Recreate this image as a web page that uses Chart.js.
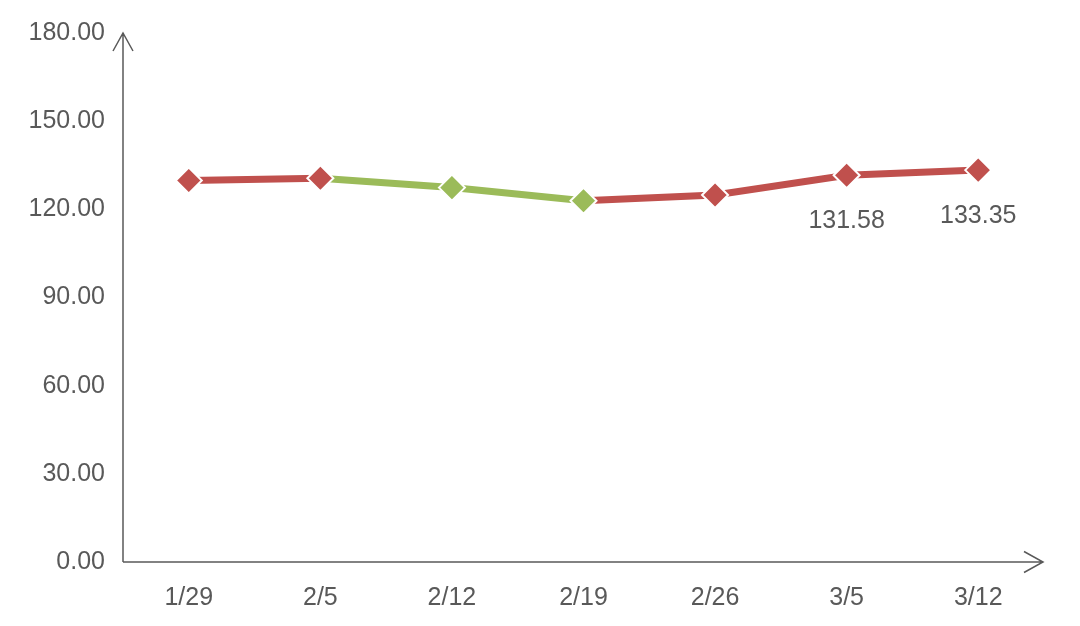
<!DOCTYPE html>
<html>
<head>
<meta charset="utf-8">
<script src="https://cdn.jsdelivr.net/npm/chart.js@4"></script>
<style>
html,body{margin:0;padding:0;background:#fff;}
#wrap{width:1080px;height:626px;position:relative;}
</style>
</head>
<body>
<div id="wrap"><canvas id="c" width="1080" height="626"></canvas></div>
<script>
// ---- data ----
const categories = ['1/29', '2/5', '2/12', '2/19', '2/26', '3/5', '3/12'];
const values = [129.8, 130.6, 127.4, 122.9, 124.9, 131.58, 133.35];
const showValueLabel = [false, false, false, false, false, true, true];
const yTickValues = [0, 30, 60, 90, 120, 150, 180];

const RED = '#C0504D';
const GREEN = '#9BBB59';
const AXIS = '#595959';
const TEXT = '#595959';
const FONT = "'Liberation Sans', Arial, sans-serif";
const FONT_SIZE = 25;

// rising (or first) -> red, falling -> green
const pointColors = values.map((v, i) => (i > 0 && v < values[i - 1]) ? GREEN : RED);

const axesPlugin = {
  id: 'axesArrows',
  beforeDatasetsDraw(chart) {
    const {ctx, chartArea: a} = chart;
    ctx.save();
    ctx.strokeStyle = AXIS;
    ctx.lineWidth = 1.5;
    ctx.beginPath();
    // y axis
    ctx.moveTo(a.left, a.bottom);
    ctx.lineTo(a.left, a.top);
    ctx.moveTo(a.left - 10, a.top + 18);
    ctx.lineTo(a.left, a.top);
    ctx.lineTo(a.left + 10, a.top + 18);
    // x axis
    ctx.moveTo(a.left, a.bottom);
    ctx.lineTo(a.right - 1, a.bottom);
    ctx.moveTo(a.right - 20, a.bottom - 10.5);
    ctx.lineTo(a.right - 1, a.bottom);
    ctx.lineTo(a.right - 20, a.bottom + 10.5);
    ctx.stroke();
    ctx.restore();
  }
};

const labelPlugin = {
  id: 'valueLabels',
  afterDatasetsDraw(chart) {
    const {ctx} = chart;
    const meta = chart.getDatasetMeta(1);
    ctx.save();
    ctx.fillStyle = TEXT;
    ctx.font = FONT_SIZE + 'px ' + FONT;
    ctx.textAlign = 'center';
    ctx.textBaseline = 'middle';
    meta.data.forEach((pt, i) => {
      if (!showValueLabel[i]) return;
      ctx.fillText(values[i].toFixed(2), pt.x, pt.y + 46);
    });
    ctx.restore();
  }
};

new Chart(document.getElementById('c'), {
  type: 'line',
  data: {
    labels: categories,
    datasets: [
      {
        // white halo behind the line
        data: values,
        borderColor: '#ffffff',
        borderWidth: 11,
        pointRadius: 0,
        fill: false,
        tension: 0,
        order: 2
      },
      {
        data: values,
        borderWidth: 7,
        borderCapStyle: 'butt',
        fill: false,
        tension: 0,
        pointStyle: 'rectRot',
        pointRadius: 13,
        pointHoverRadius: 13,
        pointBackgroundColor: pointColors,
        pointBorderColor: '#ffffff',
        pointBorderWidth: 2,
        segment: {
          borderColor: ctx => pointColors[ctx.p1DataIndex]
        },
        borderColor: RED,
        order: 1
      }
    ]
  },
  options: {
    responsive: false,
    animation: false,
    events: [],
    layout: {padding: {left: 0, right: 36, top: 30, bottom: 0}},
    plugins: {legend: {display: false}, tooltip: {enabled: false}},
    scales: {
      x: {
        offset: true,
        grid: {display: false, drawTicks: false},
        border: {display: false},
        ticks: {color: TEXT, font: {size: FONT_SIZE, family: FONT}, padding: 21, maxRotation: 0},
        afterFit(s) { s.height = 64; }
      },
      y: {
        min: 0,
        max: 180,
        grid: {display: false, drawTicks: false},
        border: {display: false},
        afterBuildTicks(s) { s.ticks = yTickValues.map(v => ({value: v})); },
        ticks: {
          color: TEXT,
          font: {size: FONT_SIZE, family: FONT},
          padding: 18,
          callback: v => Number(v).toFixed(2)
        },
        afterFit(s) { s.width = 123; }
      }
    }
  },
  plugins: [axesPlugin, labelPlugin]
});
</script>
</body>
</html>
